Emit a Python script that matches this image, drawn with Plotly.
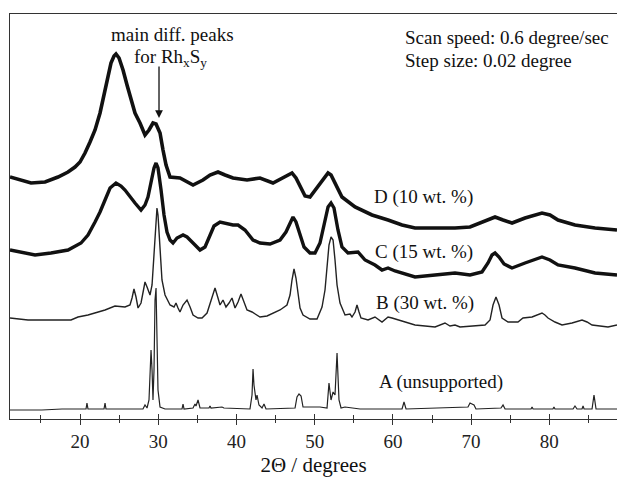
import plotly.graph_objects as go

# ---- data (2-theta in degrees, intensity in arbitrary offset units) ----
d_x = [11.05, 12.33, 13.74, 15.53, 17.19, 18.47, 19.36, 20.0, 20.64, 21.28, 21.92, 22.56, 23.2, 23.58,
       23.96, 24.35, 24.6, 24.99, 25.5, 26.01, 26.52, 27.03, 27.67, 28.31, 28.82, 29.33, 29.72, 30.23,
       30.61, 31.0, 31.51, 32.78, 34.45, 35.72, 36.62, 37.64, 38.54, 39.56, 41.35, 43.01, 44.67, 45.95,
       47.1, 47.61, 48.13, 48.77, 49.4, 50.04, 50.94, 51.71, 52.09, 52.6, 53.49, 55.16, 57.33, 59.38,
       61.17, 62.83, 65.39, 67.94, 69.86, 71.39, 73.06, 74.08, 75.23, 76.89, 79.06, 80.08, 81.11,
       83.28, 85.84, 88.65]
d_y = [242, 239, 236, 237, 242, 247, 252, 257, 266, 277, 289, 306, 329, 344,
       356, 363, 365, 361, 349, 334, 319, 306, 296, 284, 289, 296, 295, 286,
       269, 254, 242, 241, 234, 239, 244, 247, 244, 241, 239, 241, 236, 241,
       246, 241, 232, 223, 222, 229, 239, 246, 244, 236, 222, 212, 204, 199,
       194, 191, 191, 191, 192, 197, 202, 199, 196, 201, 206, 204, 199,
       194, 191, 189]

c_x = [11.05, 12.97, 14.25, 16.29, 18.47, 20.13, 21.02, 21.92, 22.56, 23.2, 23.84, 24.6, 25.24, 25.75,
       26.39, 27.03, 27.8, 28.31, 28.69, 29.08, 29.46, 29.72, 29.97, 30.36, 30.74, 31.12, 31.51, 31.89,
       32.4, 33.17, 33.68, 34.45, 35.34, 35.98, 36.62, 37.13, 37.9, 38.79, 39.56, 40.2, 41.09, 42.12,
       43.01, 44.29, 45.57, 46.33, 46.85, 47.23, 47.61, 48.13, 48.64, 49.4, 50.04, 50.68, 51.2, 51.71,
       52.09, 52.47, 52.98, 53.49, 54.26, 55.03, 55.54, 56.44, 57.71, 58.61, 59.38, 60.27, 61.17, 62.83,
       65.39, 67.94, 69.86, 71.39, 72.16, 72.67, 73.06, 73.57, 74.21, 75.23, 76.89, 78.17, 79.06, 80.08,
       81.11, 83.28, 85.84, 88.65]
c_y = [169, 166, 164, 166, 169, 176, 184, 197, 207, 219, 231, 236, 233, 229,
       222, 216, 209, 214, 222, 237, 251, 256, 251, 229, 204, 187, 179, 176,
       181, 184, 182, 176, 169, 172, 184, 193, 197, 195, 194, 194, 189, 179,
       176, 175, 179, 187, 196, 202, 197, 184, 172, 166, 166, 176, 194, 212,
       216, 211, 189, 172, 166, 167, 167, 159, 154, 149, 151, 148, 146, 142,
       144, 146, 144, 147, 156, 164, 166, 162, 155, 151, 156, 160, 162, 159,
       154, 151, 146, 144]

b_x = [11.05, 13.35, 15.91, 18.85, 19.74, 21.02, 23.2, 24.47, 25.75, 26.39, 26.65, 26.9, 27.16, 27.42,
       27.8, 28.06, 28.31, 28.57, 28.95, 29.21, 29.46, 29.72, 29.84, 29.97, 30.23, 30.48, 30.87, 31.51,
       32.02, 32.27, 32.53, 32.78, 33.17, 33.68, 34.07, 34.45, 35.09, 35.6, 36.24, 36.75, 37.26, 37.64,
       37.9, 38.28, 38.66, 39.05, 39.43, 39.82, 40.2, 40.58, 40.97, 41.35, 41.99, 43.01, 43.91, 44.67,
       45.57, 46.46, 46.85, 47.1, 47.36, 47.61, 47.87, 48.13, 48.51, 49.4, 50.3, 50.94, 51.32, 51.58,
       51.83, 52.09, 52.35, 52.6, 52.86, 53.24, 53.88, 54.52, 54.77, 55.16, 55.41, 55.67, 55.92, 56.82,
       57.33, 57.71, 58.61, 59.38, 59.89, 60.65, 61.55, 62.83, 65.39, 66.02, 66.66, 67.3, 67.94, 68.58,
       71.78, 72.42, 72.8, 73.18, 73.57, 73.95, 74.72, 75.99, 76.63, 77.79, 78.55, 79.06, 79.44, 79.83,
       80.72, 81.62, 82.9, 84.18, 84.82, 85.46, 87.5, 88.65]
b_y = [101, 99, 99, 99, 102, 104, 109, 113, 112, 114, 121, 130, 122, 111,
       116, 129, 137, 132, 124, 134, 169, 204, 211, 204, 169, 139, 124, 114,
       112, 116, 111, 107, 114, 119, 112, 104, 101, 101, 106, 119, 131, 121,
       114, 119, 112, 116, 121, 111, 117, 125, 116, 109, 107, 102, 103, 106,
       109, 114, 124, 139, 150, 141, 124, 111, 104, 100, 100, 112, 129, 149,
       174, 182, 179, 159, 134, 116, 104, 105, 102, 107, 114, 107, 101, 99,
       101, 102, 97, 102, 101, 99, 97, 94, 92, 94, 96, 93, 94, 92,
       94, 99, 114, 122, 114, 101, 97, 97, 101, 102, 104, 106, 104, 101,
       97, 94, 96, 99, 97, 94, 92, 94]

a_x = [11.05, 15.12, 17.7, 20.0, 20.77, 20.89, 21.02, 23.07, 23.2, 23.32, 28.05, 28.31, 28.57, 28.82,
       29.08, 29.21, 29.33, 29.46, 29.59, 29.72, 29.84, 29.97, 30.23, 30.87, 33.04, 33.17, 33.3, 34.45,
       34.7, 34.83, 35.09, 35.34, 36.49, 36.62, 36.75, 38.15, 38.4, 41.73, 41.99, 42.12, 42.24, 42.5,
       42.63, 42.88, 43.27, 43.52, 43.78, 47.49, 47.74, 48.0, 48.26, 48.51, 50.68, 51.58, 51.83, 52.09,
       52.35, 52.6, 52.86, 53.11, 53.37, 53.88, 55.8, 61.17, 61.42, 61.68, 69.6, 69.86, 70.11, 70.37,
       70.62, 73.82, 74.08, 74.34, 77.66, 77.79, 77.92, 80.46, 80.59, 80.72, 83.03, 83.28, 83.54, 84.18,
       84.31, 84.44, 85.46, 85.71, 85.97, 88.65]
a_y = [9, 9, 10, 10, 10, 16, 10, 10, 16, 10, 10, 14, 11, 19,
       69, 49, 19, 49, 119, 131, 89, 29, 12, 10, 10, 15, 10, 11,
       15, 13, 19, 11, 11, 13, 11, 12, 11, 10, 24, 50, 34, 19,
       24, 14, 11, 15, 10, 11, 22, 25, 23, 12, 12, 11, 36, 19,
       27, 24, 66, 19, 11, 12, 10, 10, 17, 10, 12, 16, 15, 14,
       10, 11, 14, 10, 10, 12, 10, 10, 12, 10, 10, 13, 10, 10,
       13, 10, 10, 24, 10, 10]

series = [("D (10 wt. %)", d_x, d_y, 3.6, "#111111"),
          ("C (15 wt. %)", c_x, c_y, 3.4, "#111111"),
          ("B (30 wt. %)", b_x, b_y, 1.4, "#222222"),
          ("A (unsupported)", a_x, a_y, 1.2, "#222222")]

tick_vals = [20, 30, 40, 50, 60, 70, 80]
tick_text = ["20", "30", "40", "50", "60", "70", "80"]

SERIF = "Liberation Serif, Times New Roman, serif"

fig = go.Figure()
for name, xs, ys, w, col in series:
    fig.add_trace(go.Scatter(x=xs, y=ys, mode="lines", name=name,
                             line=dict(color=col, width=w), showlegend=False))

XR = [11.05, 88.65]
fig.update_layout(
    width=617, height=480,
    margin=dict(l=10, r=0, t=14, b=61),
    paper_bgcolor="white", plot_bgcolor="white",
    font=dict(family=SERIF, size=19, color="#111111"),
    xaxis=dict(range=XR, tickvals=tick_vals, ticktext=tick_text,
               ticks="outside", ticklen=5, tickwidth=1, tickcolor="#333",
               minor=dict(dtick=5, tick0=0, ticks="outside", ticklen=3, tickcolor="#333"),
               showline=True, linecolor="#333", linewidth=1, mirror=False,
               showgrid=False, zeroline=False,
               tickfont=dict(family=SERIF, size=19, color="#222"),
               title=dict(text="2Θ / degrees", font=dict(family=SERIF, size=21, color="#111"), standoff=6)),
    xaxis2=dict(range=XR, overlaying="x", anchor="y", side="bottom",
                tickvals=tick_vals, ticks="inside", ticklen=5, tickcolor="#333",
                minor=dict(dtick=5, tick0=0, ticks="inside", ticklen=4, tickcolor="#333"),
                showticklabels=False, showline=True, linecolor="#333", linewidth=1,
                mirror=True, showgrid=False, zeroline=False),
    yaxis=dict(range=[0, 405], showticklabels=False, ticks="", showgrid=False,
               zeroline=False, showline=True, linecolor="#333", linewidth=1),
)
# dummy trace to bind the overlay axis
fig.add_trace(go.Scatter(x=[None], y=[None], xaxis="x2", showlegend=False, hoverinfo="skip"))

def pap(px, py):
    return (px - 10) / 607.0, (419 - py) / 405.0

annots = [
    ("D (10 wt. %)", 372, 197, "left"),
    ("C (15 wt. %)", 373, 252, "left"),
    ("B (30 wt. %)", 374, 303, "left"),
    ("A (unsupported)", 377, 382, "left"),
    ("Scan speed: 0.6 degree/sec", 403, 37, "left"),
    ("Step size: 0.02 degree", 403, 60, "left"),
    ("main diff. peaks", 172, 35, "center"),
    ("for Rh<sub>x</sub>S<sub>y</sub>", 170, 58, "center"),
]
for txt, px, py, al in annots:
    xp, yp = pap(px, py)
    fig.add_annotation(text=txt, xref="paper", yref="paper", x=xp, y=yp,
                       xanchor=al, yanchor="middle", showarrow=False,
                       font=dict(family=SERIF, size=19, color="#111"))

# arrow pointing to the Rh_xS_y peak
fig.add_annotation(x=30.1, y=419 - 118, xref="x", yref="y", text="",
                   showarrow=True, ax=0, ay=-53, arrowhead=2, arrowsize=1.2,
                   arrowwidth=1.3, arrowcolor="#111")

fig.write_html("out.html", config={"displayModeBar": False},
               post_script="document.body.style.margin='0';document.body.style.padding='0';")
